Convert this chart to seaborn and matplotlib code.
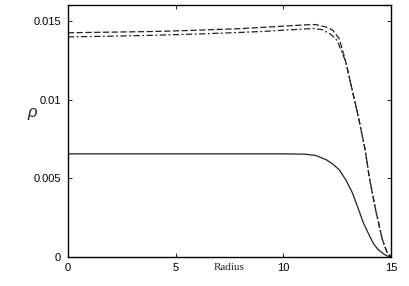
import numpy as np
import pandas as pd
import matplotlib
matplotlib.use("Agg")
import matplotlib.pyplot as plt
import seaborn as sns

# values
radius_dashed = [0, 2, 4, 6, 8, 9, 10, 11, 11.5, 12, 12.3, 12.6, 12.9, 13.2, 13.5, 13.8, 14.0, 14.3, 14.6, 14.8, 15]
rho_dashed = [0.01424, 0.01428, 0.01432, 0.01440, 0.01450, 0.01458, 0.01466, 0.01474, 0.01476, 0.01460,
              0.01440, 0.01385, 0.01240, 0.01060, 0.00880, 0.00680, 0.00500, 0.00290, 0.00110, 0.00035, 0.0]

radius_dashdot = [0, 2, 4, 6, 8, 9, 10, 11, 11.4, 11.8, 12.2, 12.5, 12.9, 13.2, 13.5, 13.8, 14.0, 14.3, 14.6, 14.8, 15]
rho_dashdot = [0.01398, 0.01402, 0.01408, 0.01416, 0.01426, 0.01432, 0.01440, 0.01448, 0.01451, 0.01444,
               0.01415, 0.01375, 0.01240, 0.01060, 0.00880, 0.00680, 0.00500, 0.00290, 0.00110, 0.00035, 0.0]

radius_solid = [0, 2, 4, 6, 8, 10, 11, 11.5, 12.0, 12.3, 12.6, 12.9, 13.2, 13.5, 13.7, 14.0, 14.2, 14.4, 14.6, 14.8, 15]
rho_solid = [0.00655, 0.00655, 0.00655, 0.00655, 0.00655, 0.00655, 0.00653, 0.00645, 0.00617, 0.00590,
             0.00553, 0.00490, 0.00410, 0.00300, 0.00222, 0.00135, 0.00082, 0.00048, 0.00025, 0.00008, 0.0]

x_ticks = [0, 5, 10, 15]
y_ticks = [0, 0.005, 0.01, 0.015]
y_tick_labels = ["0", "0.005", "0.01", "0.015"]

sns.set_style("ticks")
plt.rcParams['font.family'] = ['Liberation Sans', 'DejaVu Sans']

fig = plt.figure(figsize=(4.09, 2.86), dpi=100)
ax = fig.add_axes([0.166, 0.1014, 0.79, 0.881])

sns.lineplot(x=radius_solid, y=rho_solid, ax=ax, color='#222222', lw=0.9)
sns.lineplot(x=radius_dashed, y=rho_dashed, ax=ax, color='#222222', lw=0.9)
sns.lineplot(x=radius_dashdot, y=rho_dashdot, ax=ax, color='#222222', lw=0.9)
ax.lines[1].set_dashes([5, 2])
ax.lines[2].set_dashes([5, 2, 1.5, 2])

ax.set_xlim(0, 15)
ax.set_ylim(0, 0.016)
ax.set_xticks(x_ticks)
ax.set_xticklabels([str(t) for t in x_ticks])
ax.set_yticks(y_ticks)
ax.set_yticklabels(y_tick_labels)
ax.tick_params(direction='in', length=3, width=0.6, top=True, right=True,
               labelsize=8, colors='black', pad=5)
ax.tick_params(axis='x', pad=4)
for s in ax.spines.values():
    s.set_visible(True)
    s.set_linewidth(1.0)
    s.set_color('black')

ax.set_xlabel('')
ax.set_ylabel('')
# "Radius" sits on the same line as the x tick labels
ax.text(0.5, -0.024, 'Radius', transform=ax.transAxes, ha='center', va='top',
        fontsize=8, family='Liberation Serif')
fig.text(0.078, 0.605, 'ρ', ha='center', va='center', fontsize=12, style='italic')

fig.savefig('out.png', dpi=100)
